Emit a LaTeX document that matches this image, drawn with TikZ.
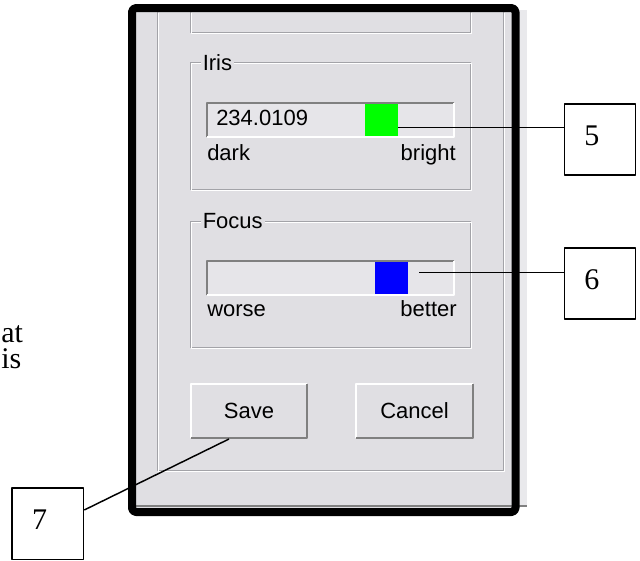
\documentclass[tikz,border=0pt]{standalone}
\usepackage{fontspec}
\setmainfont{Liberation Serif}
\setsansfont{Liberation Sans}
\usepackage{tikz}
\usetikzlibrary{positioning, calc}
\definecolor{wpanel}{HTML}{E0DFE3}
\definecolor{wbar}{HTML}{E6E5E9}
\definecolor{wstrip}{HTML}{E9E9EC}
\definecolor{wgroove}{HTML}{A3A3A8}
\definecolor{wdark}{HTML}{808080}
\definecolor{wgreen}{HTML}{00FF00}
\definecolor{wblue}{HTML}{0000FF}
\tikzset{
  uitext/.style={font=\fontsize{16.5}{18}\selectfont\sffamily, inner sep=0pt},
  doctext/.style={font=\fontsize{22.5}{19.5}\selectfont, inner sep=0pt, align=left},
  groove/.style={draw=wgroove, line width=0.75pt},
  groovehi/.style={draw=white, line width=0.75pt, shift={(1,1)}},
  grouplabel/.style={uitext, fill=wpanel, inner xsep=1.5pt, inner ysep=0pt},
  sunkbar/.style={fill=wbar, inner sep=0pt, minimum width=185.25pt, minimum height=25.5pt},
  marker/.style={inner sep=0pt, minimum width=24.75pt, minimum height=24pt},
  button/.style={uitext, fill=wpanel, minimum height=40.5pt},
  callout/.style={draw=black, line width=1.2pt, fill=white, text width=23.5pt, inner xsep=15pt,
                  minimum height=53.5pt, align=left, text depth=5.8pt,
                  font=\fontsize{22.5}{24}\selectfont},
  leader/.style={draw=black, line width=1.1pt},
}

\begin{document}
\begin{tikzpicture}[x=0.75pt, y=-0.75pt, line join=round]
  \useasboundingbox[fill=white] (0,0) rectangle (640,561);

  %% ── Window behind the frame ──
  \fill[wstrip] (515,10) rectangle (527,507);
  \fill[wpanel] (132,8) rectangle (516,512);
  \draw[wdark, line width=1.5pt] (136,505.5) -- (527,505.5);

  % outer group box (top cut off)
  \draw[groove] (157,12) -- (157,470) -- (503,470) -- (503,12);
  \draw[groovehi] (157,12) -- (157,470) -- (503,470) -- (503,12);

  % group box above Iris (cut off)
  \draw[groove] (190,12) -- (190,32) -- (470,32) -- (470,12);
  \draw[groovehi] (190,12) -- (190,32) -- (470,32) -- (470,12);

  %% ── Iris ──
  \draw[groove] (190,62) rectangle (470,189);
  \draw[groovehi] (190,62) rectangle (470,189);
  \node[grouplabel, anchor=west] (irislabel) at (200.5,63) {Iris};

  \node[sunkbar] (irisbar) at (330.5,120) {};
  \draw[wdark, line width=1.5pt] (irisbar.south west) -- (irisbar.north west) -- (irisbar.north east);
  \draw[white, line width=1.5pt] (irisbar.north east) -- (irisbar.south east) -- (irisbar.south west);
  \node[marker, fill=wgreen] (irisgreen) at (381.5,120) {};
  \node[uitext, anchor=west] (irisvalue) at (216,118) {234.0109};
  \node[uitext, anchor=base west] (irisdark) at (207,160) {dark};
  \node[uitext, anchor=base east] (irisbright) at (456,160) {bright};

  %% ── Focus ──
  \draw[groove] (190,221) rectangle (470,347);
  \draw[groovehi] (190,221) rectangle (470,347);
  \node[grouplabel, anchor=west] (focuslabel) at (200.5,221) {Focus};

  \node[sunkbar] (focusbar) at (330.5,278) {};
  \draw[wdark, line width=1.5pt] (focusbar.south west) -- (focusbar.north west) -- (focusbar.north east);
  \draw[white, line width=1.5pt] (focusbar.north east) -- (focusbar.south east) -- (focusbar.south west);
  \node[marker, fill=wblue] (focusblue) at (391.5,278) {};
  \node[uitext, anchor=base west] (focusworse) at (207,316) {worse};
  \node[uitext, anchor=base east] (focusbetter) at (457,316) {better};

  %% ── Buttons ──
  \node[button, minimum width=87pt] (save) at (249,411) {Save};
  \node[button, minimum width=87.75pt] (cancel) at (414.5,411) {Cancel};
  \foreach \b in {save, cancel} {
    \draw[white, line width=1.5pt] (\b.south west) -- (\b.north west) -- (\b.north east);
    \draw[wdark, line width=1.5pt] (\b.north east) -- (\b.south east) -- (\b.south west);
  }

  %% ── Frame ──
  \draw[line width=6pt, rounded corners=3pt] (132,8) rectangle (515.5,512);

  %% ── Document text cut at the left ──
  \node[doctext, anchor=base west] (doclines) at (1,368) {at\\is};

  %% ── Callouts ──
  \node[callout] (num5) at (600,139.5) {5};
  \node[callout] (num6) at (600,283.4) {6};
  \node[callout] (num7) at (47.8,523.8) {7};

  \coordinate (irisend) at (398,127.7);
  \coordinate (focusend) at (419,272.3);
  \coordinate (saveend) at (229,439);
  \draw[leader] (irisend) -- (irisend -| num5.west);
  \draw[leader] (focusend) -- (focusend -| num6.west);
  \draw[leader] ([yshift=10.35pt]num7.east) -- (saveend);
\end{tikzpicture}
\end{document}
